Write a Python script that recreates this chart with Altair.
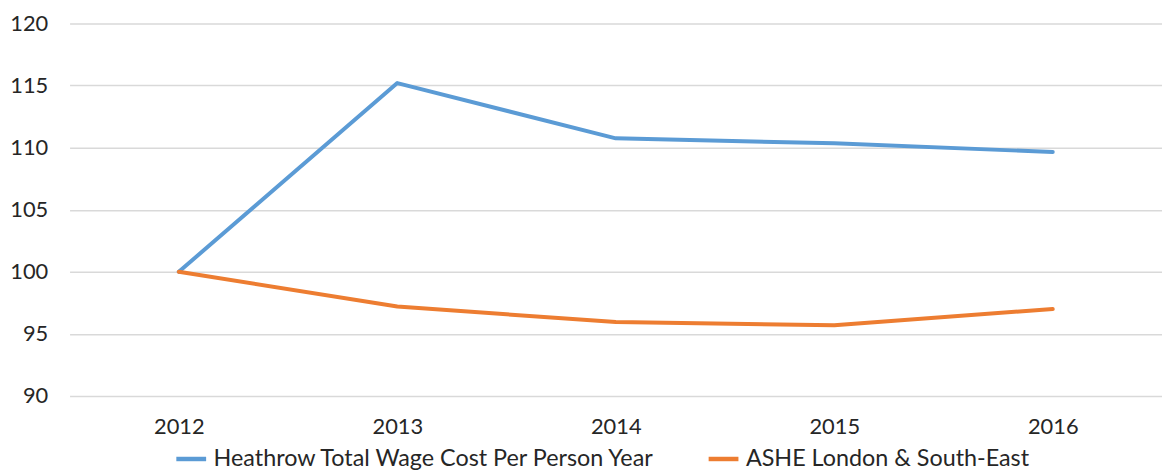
import altair as alt
import pandas as pd

years = ["2012", "2013", "2014", "2015", "2016"]
heathrow = [100.0, 115.2, 110.75, 110.35, 109.65]
ashe = [100.0, 97.2, 95.95, 95.7, 97.0]
series_names = ["Heathrow Total Wage Cost Per Person Year", "ASHE London & South-East"]
colors = ["#5B9BD5", "#ED7D31"]

rows = []
for y, v in zip(years, heathrow):
    rows.append({"year": y, "value": v, "series": series_names[0]})
for y, v in zip(years, ashe):
    rows.append({"year": y, "value": v, "series": series_names[1]})
df = pd.DataFrame(rows)

FONT = "Lato"

chart = alt.Chart(df).mark_line(strokeWidth=4, strokeCap="round", strokeJoin="round").encode(
    x=alt.X("year:N", sort=years, title=None,
            scale=alt.Scale(paddingOuter=0.5, paddingInner=1),
            axis=alt.Axis(labelAngle=0, labelFontSize=22, labelFont=FONT, labelColor="#262626",
                          labelPadding=21, ticks=False, domain=False, grid=False)),
    y=alt.Y("value:Q", title=None,
            scale=alt.Scale(domain=[90, 120], nice=False, zero=False),
            axis=alt.Axis(values=[90, 95, 100, 105, 110, 115, 120], labelFontSize=22, labelFont=FONT,
                          labelColor="#262626", labelPadding=22, ticks=False, domain=False,
                          gridColor="#D9D9D9", gridWidth=1.5)),
    color=alt.Color("series:N", sort=series_names,
                    scale=alt.Scale(domain=series_names, range=colors),
                    legend=alt.Legend(title=None, orient="none", direction="horizontal",
                                      legendX=105, legendY=421,
                                      symbolType="stroke", symbolStrokeWidth=4.5, symbolSize=900,
                                      labelFont=FONT, labelFontSize=23.5, labelColor="#262626",
                                      labelLimit=700, columnPadding=43, labelOffset=5)),
).properties(
    width=1100, height=375,
    autosize=alt.AutoSizeParams(type="none"),
    padding={"left": 62, "top": 14, "right": 0, "bottom": 78},
).configure_view(stroke=None)

chart.save("out.html", embed_options={"renderer": "svg", "actions": False})
